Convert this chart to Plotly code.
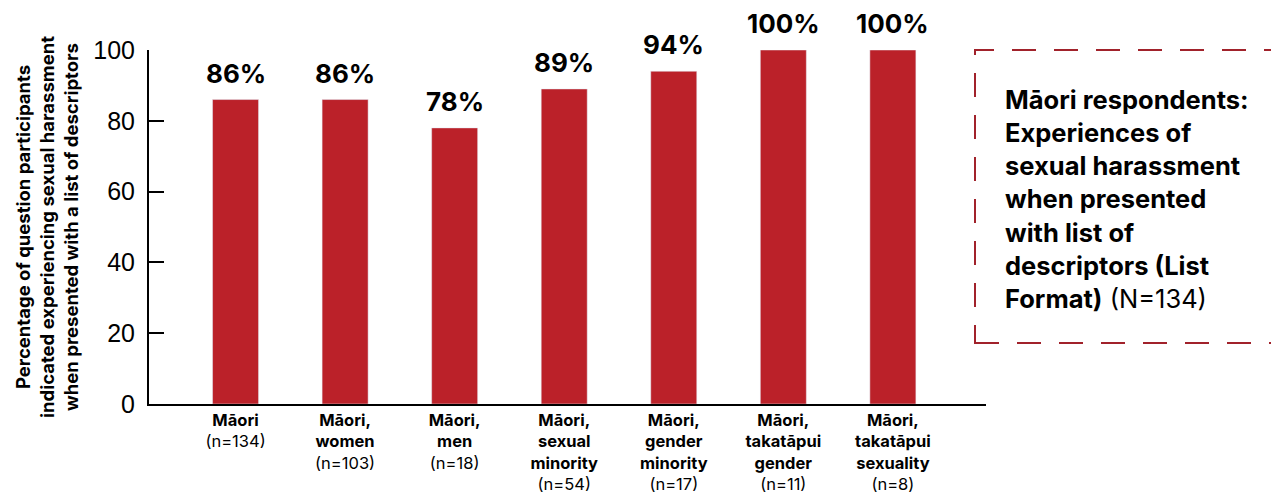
import plotly.graph_objects as go

categories = [
    "Māori", "Māori, women", "Māori, men", "Māori, sexual minority",
    "Māori, gender minority", "Māori, takatāpui gender", "Māori, takatāpui sexuality",
]
cat_labels = [
    "<b>Māori</b><br>(n=134)",
    "<b>Māori,</b><br><b>women</b><br>(n=103)",
    "<b>Māori,</b><br><b>men</b><br>(n=18)",
    "<b>Māori,</b><br><b>sexual</b><br><b>minority</b><br>(n=54)",
    "<b>Māori,</b><br><b>gender</b><br><b>minority</b><br>(n=17)",
    "<b>Māori,</b><br><b>takatāpui</b><br><b>gender</b><br>(n=11)",
    "<b>Māori,</b><br><b>takatāpui</b><br><b>sexuality</b><br>(n=8)",
]
values = [86, 86, 78, 89, 94, 100, 100]
y_ticks = [0, 20, 40, 60, 80, 100]

FONT = "Inter, Roboto, Liberation Sans, Arial, sans-serif"
TICKFONT = "Liberation Sans, Arial, Helvetica, sans-serif"
BAR = "#bb2129"

# page offset (body margin) of 8px
OFF = 8
L, R, T, B = 149 - OFF, 986 - OFF, 50 - OFF, 404 - OFF
W, H = 1279, 495
pw, ph = R - L, B - T


def px(x):
    return (x - OFF - L) / pw


def py(y):
    return (B - (y - OFF)) / ph


fig = go.Figure()
fig.add_trace(go.Bar(
    x=categories, y=values, marker_color=BAR, width=0.42,
    hoverinfo="skip", cliponaxis=False,
))

for c, v in zip(categories, values):
    fig.add_annotation(x=c, y=v, text=f"<b>{v}%</b>", showarrow=False,
                       yanchor="bottom", yshift=9,
                       font=dict(size=26, color="black", family=FONT))

fig.add_shape(type="rect", xref="paper", yref="paper",
              x0=px(975), x1=px(1300), y0=py(343), y1=py(50),
              line=dict(color="#a1222b", width=2, dash="24px,18px"),
              fillcolor="rgba(0,0,0,0)", layer="above")
fig.add_annotation(xref="paper", yref="paper", x=px(1003), y=py(82),
                   xanchor="left", yanchor="top", align="left", showarrow=False,
                   text=("<b>Māori respondents:<br>Experiences of<br>sexual harassment<br>"
                         "when presented<br>with list of<br>descriptors (List<br>Format)</b> (N=134)"),
                   font=dict(size=25.5, color="black", family=FONT))

fig.update_layout(
    width=W, height=H,
    margin=dict(l=L, r=W - R, t=T, b=H - B, autoexpand=False),
    paper_bgcolor="white", plot_bgcolor="white",
    font=dict(family=FONT, color="black"),
    showlegend=False,
    xaxis=dict(
        type="category", range=[-0.79, 6.85], automargin=False,
        tickvals=categories, ticktext=cat_labels,
        tickfont=dict(size=16.5, color="black"),
        ticklabelstandoff=0,
        showline=True, linecolor="black", linewidth=2,
        showgrid=False, ticks="", zeroline=False,
    ),
    yaxis=dict(
        range=[0, 100], tickvals=y_ticks, automargin=False,
        tickfont=dict(size=25, color="black", family=TICKFONT),
        ticklabelstandoff=7,
        showline=True, linecolor="black", linewidth=2,
        ticks="inside", ticklen=15, tickwidth=2, tickcolor="black",
        showgrid=False, zeroline=False,
        title=dict(text=("<b>Percentage of question participants<br>"
                         "indicated experiencing sexual harassment<br>"
                         "when presented with a list of descriptors</b>"),
                   font=dict(size=18.5, color="black"), standoff=10),
    ),
)

fig.write_html("out.html")
